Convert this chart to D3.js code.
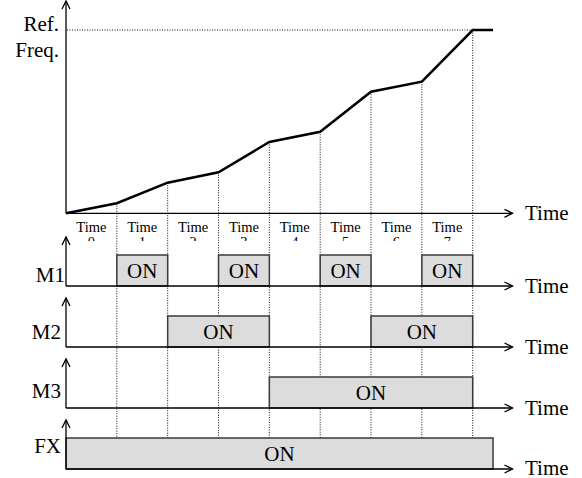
<!DOCTYPE html>
<html lang="en">
<head>
<meta charset="utf-8">
<script src="https://d3js.org/d3.v7.min.js"></script>
<style>
  body { margin:0; background:#fff; }
  svg { display:block; font-family:"Liberation Serif", "Times New Roman", serif; }
</style>
</head>
<body>
<script>
// step boundaries 0..8, frequency reached at the end of each step (% of ref freq)
const steps = [0, 1, 2, 3, 4, 5, 6, 7, 8];
const freqValues = [0, 5.5, 16.7, 22.4, 38.9, 44.5, 66.3, 71.8, 100];
const holdEnd = 8.4;          // curve stays at ref freq until here
const stepLabels = ["0", "1", "2", "3", "4", "5", "6", "7"];

// on-intervals per signal row, in step units
const rowNames = ["M1", "M2", "M3", "FX"];
const m1On = [[1, 2], [3, 4], [5, 6], [7, 8]];
const m2On = [[2, 4], [6, 8]];
const m3On = [[4, 8]];
const fxOn = [[0, 8.4]];
const rowOn = [m1On, m2On, m3On, fxOn];

const W = 582, H = 478;
const svg = d3.select("body").append("svg").attr("width", W).attr("height", H);

const x = d3.scaleLinear().domain([0, 8]).range([66, 472.7]);
const y = d3.scaleLinear().domain([0, 100]).range([213.3, 30]);
const axisEnd = 512.5;

const rowBase = [286, 347, 408, 469];
const boxH = 31;
const labelDy = [-4, -8, -10, -16];

function arrowUp(x0, yTip) {
  svg.append("path").attr("fill", "none").attr("stroke", "#000").attr("stroke-width", 1.3)
    .attr("d", `M${x0 - 4},${yTip + 8} L${x0},${yTip} L${x0 + 4},${yTip + 8}`);
}
function arrowRight(xTip, y0) {
  svg.append("path").attr("fill", "none").attr("stroke", "#000").attr("stroke-width", 1.3)
    .attr("d", `M${xTip - 8},${y0 - 4} L${xTip},${y0} L${xTip - 8},${y0 + 4}`);
}
function timeAxis(y0, yTop) {
  svg.append("line").attr("x1", x(0)).attr("x2", axisEnd).attr("y1", y0).attr("y2", y0)
    .attr("stroke", "#000").attr("stroke-width", 1.3);
  svg.append("line").attr("x1", x(0)).attr("x2", x(0)).attr("y1", y0).attr("y2", yTop)
    .attr("stroke", "#000").attr("stroke-width", 1.3);
  arrowRight(axisEnd, y0);
  arrowUp(x(0), yTop);
  svg.append("text").attr("x", 525).attr("y", Math.min(y0 + 7, H - 3)).attr("font-size", 21).text("Time");
}

// dotted guides from curve down to FX row
const fxTop = rowBase[3] - boxH;
svg.append("g").selectAll("line").data(steps.slice(1)).join("line")
  .attr("x1", d => x(d)).attr("x2", d => x(d))
  .attr("y1", d => y(freqValues[d])).attr("y2", fxTop)
  .attr("stroke", "#111").attr("stroke-width", 1).attr("stroke-dasharray", "1,1.5");

svg.append("line").attr("x1", x(0) + 1).attr("x2", x(8)).attr("y1", y(100)).attr("y2", y(100))
  .attr("stroke", "#111").attr("stroke-width", 1).attr("stroke-dasharray", "1,1.5");

// frequency chart
timeAxis(y(0), 1);
svg.append("text").attr("x", 59).attr("y", 31).attr("text-anchor", "end").attr("font-size", 21).text("Ref.");
svg.append("text").attr("x", 59).attr("y", 57).attr("text-anchor", "end").attr("font-size", 21).text("Freq.");

const pts = steps.map((s, i) => [s, freqValues[i]]).concat([[holdEnd, 100]]);
svg.append("path").datum(pts)
  .attr("fill", "none").attr("stroke", "#000").attr("stroke-width", 2.5).attr("stroke-linejoin", "miter")
  .attr("d", d3.line().x(d => x(d[0])).y(d => y(d[1])));

// step labels (second line is cut off)
svg.append("clipPath").attr("id", "lblclip").append("rect")
  .attr("x", 0).attr("y", 214).attr("width", W).attr("height", 27);
const lbl = svg.append("g").attr("clip-path", "url(#lblclip)");
stepLabels.forEach((s, i) => {
  const t = lbl.append("text").attr("x", x(i + 0.5)).attr("text-anchor", "middle").attr("font-size", 14.5);
  t.append("tspan").attr("x", x(i + 0.5)).attr("y", 232).text("Time");
  t.append("tspan").attr("x", x(i + 0.5)).attr("y", 247).text(s);
});

// signal rows
rowNames.forEach((name, r) => {
  const b = rowBase[r];
  const g = svg.append("g");
  g.selectAll("rect").data(rowOn[r]).join("rect")
    .attr("x", d => x(d[0])).attr("width", d => x(d[1]) - x(d[0]))
    .attr("y", b - boxH).attr("height", boxH)
    .attr("fill", "#dcdcdc").attr("stroke", "#3a3a3a").attr("stroke-width", 1.5);
  g.selectAll("text").data(rowOn[r]).join("text")
    .attr("x", d => (x(d[0]) + x(d[1])) / 2).attr("y", b - boxH / 2 + 7)
    .attr("text-anchor", "middle").attr("font-size", 21).text("ON");
  timeAxis(b, b - 49);
  svg.append("text").attr("x", r === 0 ? 65 : 61).attr("y", b + labelDy[r])
    .attr("text-anchor", "end").attr("font-size", 21).text(name);
});
</script>
</body>
</html>
